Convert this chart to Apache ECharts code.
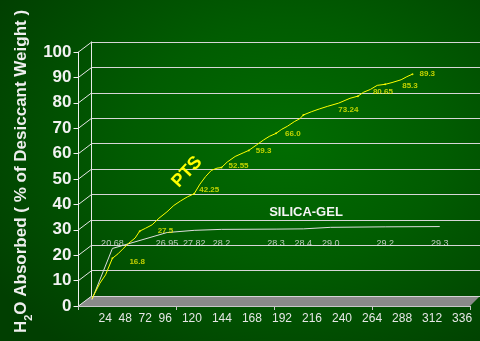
<!DOCTYPE html>
<html>
<head>
<meta charset="utf-8">
<script src="https://cdn.jsdelivr.net/npm/echarts@6/dist/echarts.min.js"></script>
<style>
  html, body { margin: 0; padding: 0; }
  #chart {
    width: 480px; height: 341px;
    background: radial-gradient(ellipse 72% 78% at 60% 42%, #016c01 0%, #015c01 45%, #013f01 100%);
  }
</style>
</head>
<body>
<div id="chart"></div>
<script>
// Hour labels along the floor
const hourLabels = ['24', '48', '72', '96', '120', '144', '168', '192', '216', '240', '264', '288', '312', '336'];

// PTS uptake curve (hours, % of desiccant weight)
const ptsHours = [6, 13, 18, 24, 29, 33, 38, 44, 48, 53, 59, 65, 72, 78, 84, 90, 96, 101, 106, 111, 116, 120,
  125, 132, 139, 144, 151, 157, 162, 168, 173, 178, 184, 189, 192, 199, 206, 213, 223, 233, 240, 245, 251,
  257, 264, 270, 278, 283, 288];
const ptsValues = [0.9, 7.0, 10.3, 16.8, 18.6, 20.4, 22.6, 24.8, 27.5, 28.6, 30.0, 32.6, 35.1, 37.6, 39.4, 41.0,
  42.25, 46.0, 49.0, 51.4, 52.3, 52.55, 54.7, 56.9, 58.3, 59.3, 61.5, 63.4, 64.8, 66.0, 67.6, 68.8, 70.6, 71.8,
  73.24, 74.5, 75.6, 76.6, 77.9, 79.8, 80.65, 82.2, 83.3, 84.9, 85.3, 86.0, 87.1, 88.3, 89.3];

// Annotated PTS readings
const ptsLabelHours = [24, 48, 96, 120, 144, 168, 192, 240, 264, 288];
const ptsLabelValues = [16.8, 27.5, 42.25, 52.55, 59.3, 66.0, 73.24, 80.65, 85.3, 89.3];

// Silica-gel uptake curve; every point after the first is annotated
const silicaHours = [6, 24, 72, 96, 120, 168, 192, 216, 264, 312];
const silicaValues = [0.5, 20.68, 26.95, 27.82, 28.2, 28.3, 28.4, 29.0, 29.2, 29.3];

// ---- layout / styling ----
const FONT = '"Liberation Sans", Arial, sans-serif';
const X_MAX = 344.4;           // hours at the right end of the floor
const X_TICK = X_MAX / 4;      // floor tick spacing
const FRONT = { left: 78.5, top: 52, width: 391.5, height: 254 };
const DEPTH = { dx: 13.2, dy: -10 };
const SILICA_LABEL_LEVEL = 22.6;          // axis level of the silica-gel value row
const ptsLabelNudge = [[8, 3], [9, 0], [-4, -4], [-2, -1.5], [-2, 0], [0, 0], [26, -5], [6, -4.5], [8, 1.5], [-2, 0]];

function shiftedGrid(f) {
  return {
    left: FRONT.left + DEPTH.dx * f,
    top: FRONT.top + DEPTH.dy * f,
    width: FRONT.width,
    height: FRONT.height
  };
}

const fmt = v => Number.isInteger(v) ? v.toFixed(1) : String(v);

const hiddenX = g => ({ gridIndex: g, type: 'value', min: 0, max: X_MAX, show: false });
const hiddenY = g => ({ gridIndex: g, type: 'value', min: 0, max: 100, show: false });

const chart = echarts.init(document.getElementById('chart'), null, { renderer: 'canvas' });

const option = {
  backgroundColor: 'transparent',
  animation: false,
  textStyle: { fontFamily: FONT },
  grid: [shiftedGrid(0), shiftedGrid(0.5), shiftedGrid(1)],
  xAxis: [
    {
      gridIndex: 0, type: 'value', min: 0, max: X_MAX, interval: X_TICK,
      axisLine: { show: true, lineStyle: { color: '#c8c8c8', width: 1 } },
      axisTick: { show: true, length: 4, lineStyle: { color: '#c8c8c8' } },
      axisLabel: { show: false },
      splitLine: { show: false }
    },
    hiddenX(1),
    hiddenX(2)
  ],
  yAxis: [
    {
      gridIndex: 0, type: 'value', min: 0, max: 100, interval: 10,
      axisLine: { show: true, lineStyle: { color: '#f0f0f0', width: 1 } },
      axisTick: { show: true, length: 5, lineStyle: { color: '#f0f0f0' } },
      axisLabel: { color: '#f2f2f2', fontSize: 17, fontWeight: 'bold', margin: 7, fontFamily: FONT },
      splitLine: { show: false }
    },
    hiddenY(1),
    {
      gridIndex: 2, type: 'value', min: 0, max: 100, interval: 10,
      axisLine: { show: true, lineStyle: { color: '#e8e8e8', width: 1 } },
      axisTick: { show: false },
      axisLabel: { show: false },
      splitLine: { show: true, lineStyle: { color: '#d6d6d6', width: 1 } }
    }
  ],
  series: [
    {
      name: 'SILICA-GEL', type: 'line', xAxisIndex: 1, yAxisIndex: 1, z: 3,
      data: silicaHours.map((h, i) => [h, silicaValues[i]]),
      symbol: 'none', silent: true,
      lineStyle: { color: '#dedede', width: 1 }
    },
    {
      name: 'PTS', type: 'line', xAxisIndex: 1, yAxisIndex: 1, z: 3,
      data: ptsHours.map((h, i) => [h, ptsValues[i]]),
      symbol: 'none', silent: true,
      lineStyle: { color: '#ffff00', width: 1 }
    },
    {
      name: 'PTS readings', type: 'scatter', xAxisIndex: 1, yAxisIndex: 1, z: 4, silent: true,
      data: ptsLabelHours.map((h, i) => ({
        value: [h, ptsLabelValues[i]],
        label: { offset: ptsLabelNudge[i] }
      })),
      symbolSize: 2,
      itemStyle: { color: '#ffff00' },
      label: {
        show: true, position: 'right', distance: 8,
        formatter: p => fmt(p.value[1]),
        color: '#eeee00', fontSize: 8, fontWeight: 'bold', fontFamily: FONT
      }
    },
    {
      name: 'SILICA-GEL readings', type: 'scatter', xAxisIndex: 1, yAxisIndex: 1, z: 4, silent: true,
      data: silicaHours.slice(1).map((h, i) => [h, SILICA_LABEL_LEVEL, silicaValues[i + 1]]),
      symbolSize: 1,
      itemStyle: { color: 'rgba(0,0,0,0)' },
      label: {
        show: true, position: 'inside',
        formatter: p => fmt(p.value[2]),
        color: '#e6e6e6', fontSize: 9, fontFamily: FONT
      },
      labelLayout: { hideOverlap: false }
    }
  ]
};

chart.setOption(option);

// Floor, side wall and free-standing text, placed through the axis scales
const front = (x, y) => chart.convertToPixel({ gridIndex: 0 }, [x, y]);
const back = (x, y) => chart.convertToPixel({ gridIndex: 2 }, [x, y]);

const elements = [];
elements.push({
  type: 'polygon', z: -1, silent: true,
  shape: { points: [front(0, 0), front(X_MAX, 0), back(X_MAX, 0), back(0, 0)] },
  style: { fill: '#8a8a8a', stroke: null }
});
for (let v = 0; v <= 100; v += 10) {
  const a = front(0, v), b = back(0, v);
  elements.push({
    type: 'line', z: 1, silent: true,
    shape: { x1: a[0], y1: a[1], x2: b[0], y2: b[1] },
    style: { stroke: '#e6e6e6', lineWidth: 1 }
  });
}

const labelRow = hourLabels.reduce((s, l, i) => i ? s + (l.length < 3 ? '  ' : '   ') + l : l, '');
elements.push({
  type: 'text', silent: true, x: 98.5, y: 318.5,
  style: { text: labelRow, fill: '#e6e6e6', font: '12px ' + FONT, align: 'left', verticalAlign: 'middle' }
});

elements.push({
  type: 'text', silent: true, x: 21.5, y: 171.5, rotation: Math.PI / 2,
  style: {
    text: '{n|H}{s|2}{n|O Absorbed ( % of Desiccant Weight )}',
    align: 'center', verticalAlign: 'middle',
    rich: {
      n: { fontSize: 17, fontWeight: 'bold', fontFamily: FONT, fill: '#eeeeee', lineHeight: 26 },
      s: { fontSize: 11, fontWeight: 'bold', fontFamily: FONT, fill: '#eeeeee', lineHeight: 26, verticalAlign: 'bottom' }
    }
  }
});

elements.push({
  type: 'text', silent: true, x: 187, y: 172, rotation: 0.82, z: 5,
  style: {
    text: 'PTS', fill: '#ffff00', font: 'bold 18px ' + FONT, align: 'center', verticalAlign: 'middle',
    textShadowColor: 'rgba(0,0,0,0.85)', textShadowOffsetX: 1.5, textShadowOffsetY: 1.5, textShadowBlur: 0
  }
});

elements.push({
  type: 'text', silent: true, x: 306, y: 212, z: 5,
  style: { text: 'SILICA-GEL', fill: '#f4f4f4', font: 'bold 13px ' + FONT, align: 'center', verticalAlign: 'middle' }
});

chart.setOption({ graphic: { elements } });
</script>
</body>
</html>
